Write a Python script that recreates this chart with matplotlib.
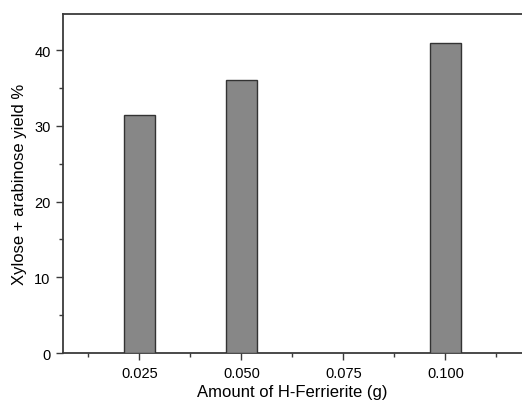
import matplotlib
matplotlib.use("Agg")
import matplotlib.pyplot as plt
from matplotlib.ticker import MultipleLocator

# ---------- data ----------
amount = [0.025, 0.050, 0.100]
yield_pct = [31.4, 36.1, 41.0]
xticks = [0.025, 0.050, 0.075, 0.100]
xtick_labels = ["0.025", "0.050", "0.075", "0.100"]

plt.rcParams["font.family"] = ["Liberation Sans", "DejaVu Sans"]

fig = plt.figure(figsize=(5.22, 4.02), dpi=100)
ax = fig.add_axes([0.1207, 0.1194, 0.8793, 0.8433])

ax.bar(amount, yield_pct, width=0.0075, color="#878787",
       edgecolor="#333333", linewidth=1.0, zorder=3)

ax.set_xlim(0.00625, 0.1188)
ax.set_ylim(0, 44.8)
ax.set_xticks(xticks)
ax.set_xticklabels(xtick_labels)
ax.xaxis.set_minor_locator(MultipleLocator(0.0125))
ax.yaxis.set_major_locator(MultipleLocator(10))
ax.yaxis.set_minor_locator(MultipleLocator(5))

for s in ["left", "bottom", "top"]:
    ax.spines[s].set_color("#3a3a3a")
    ax.spines[s].set_linewidth(1.3)
ax.spines["right"].set_visible(False)

ax.tick_params(which="major", direction="out", length=5, width=1.0,
               color="#3a3a3a", labelsize=10.5, pad=4)
ax.tick_params(which="minor", direction="out", length=3, width=1.0,
               color="#3a3a3a")
ax.tick_params(axis="x", which="minor", top=False)

ax.set_xlabel("Amount of H-Ferrierite (g)", fontsize=12, labelpad=3)
ax.set_ylabel("Xylose + arabinose yield %", fontsize=12, labelpad=5)

fig.savefig("out.png", dpi=100)
